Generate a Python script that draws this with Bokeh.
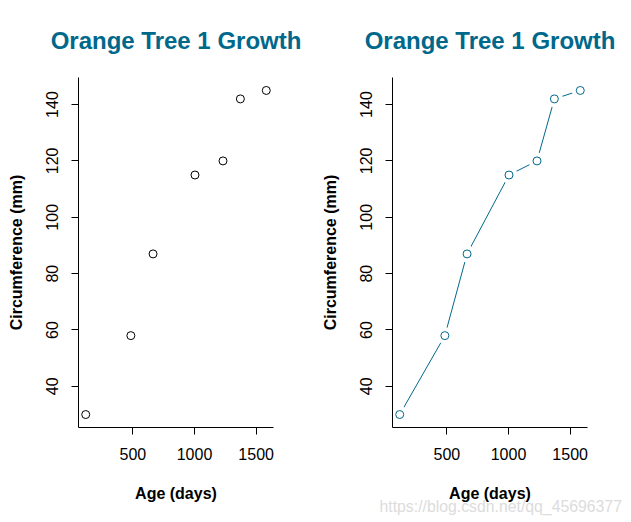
from bokeh.plotting import figure
from bokeh.models import Range1d, FixedTicker, Title
from bokeh.layouts import row
from bokeh.embed import file_html
from bokeh.resources import INLINE

# ---- data (Orange tree 1) ----
age_days = [118, 484, 664, 1004, 1231, 1372, 1582]
circumference_mm = [30, 58, 87, 115, 120, 142, 145]
x_ticks = [500, 1000, 1500]
y_ticks = [40, 60, 80, 100, 120, 140]
title_text = "Orange Tree 1 Growth"
x_title = "Age (days)"
y_title = "Circumference (mm)"
watermark = "https://blog.csdn.net/qq_45696377"

TEAL = "#00688B"
FONT = "Liberation Sans"


def r_range(vals):
    lo, hi = min(vals), max(vals)
    ext = (hi - lo) * 0.04
    return Range1d(lo - ext, hi + ext)


def make_fig(width, right_border):
    p = figure(width=width, height=520, output_backend="svg", toolbar_location=None,
               x_range=r_range(age_days), y_range=r_range(circumference_mm),
               min_border_left=78, min_border_right=right_border,
               min_border_top=77, min_border_bottom=93)
    p.outline_line_color = None
    p.grid.visible = False
    p.background_fill_color = "white"
    p.border_fill_color = "white"
    p.title.text = title_text
    p.title.align = "center"
    p.title.text_font = FONT
    p.title.text_font_size = "24px"
    p.title.text_font_style = "bold"
    p.title.text_color = TEAL
    p.title.standoff = 47
    for ax in (p.xaxis[0], p.yaxis[0]):
        ax.axis_line_color = "black"
        ax.axis_line_width = 1
        ax.major_tick_out = 7
        ax.major_tick_in = 0
        ax.minor_tick_out = 0
        ax.minor_tick_in = 0
        ax.major_tick_line_color = "black"
        ax.major_label_text_font = FONT
        ax.major_label_text_font_size = "16px"
        ax.major_label_text_color = "black"
        ax.axis_label_text_font = FONT
        ax.axis_label_text_font_size = "16px"
        ax.axis_label_text_font_style = "bold"
        ax.axis_label_text_color = "black"
        ax.major_label_standoff = 13
    p.xaxis.ticker = FixedTicker(ticks=x_ticks)
    p.yaxis.ticker = FixedTicker(ticks=y_ticks)
    p.yaxis.major_label_orientation = "vertical"
    p.xaxis.axis_label = x_title
    p.yaxis.axis_label = y_title
    p.xaxis.axis_label_standoff = 22
    p.yaxis.axis_label_standoff = 19
    return p


p1 = make_fig(314, 41)
p1.scatter(age_days, circumference_mm, marker="circle", size=8,
           fill_color=None, line_color="black", line_width=1)

p2 = make_fig(313, 40)
p2.line(age_days, circumference_mm, line_color=TEAL, line_width=1)
# white masks create the gaps of R's type="b"
p2.scatter(age_days, circumference_mm, marker="circle", size=17,
           fill_color="white", line_color=None)
p2.scatter(age_days, circumference_mm, marker="circle", size=8,
           fill_color=None, line_color=TEAL, line_width=1)
p2.add_layout(Title(text=watermark, align="left", offset=-13, standoff=-17,
                    text_font=FONT, text_font_size="15.8px",
                    text_font_style="normal", text_color="#dcdcdc"), "below")

layout = row(p1, p2)
open("out.html", "w").write(file_html(layout, INLINE))
